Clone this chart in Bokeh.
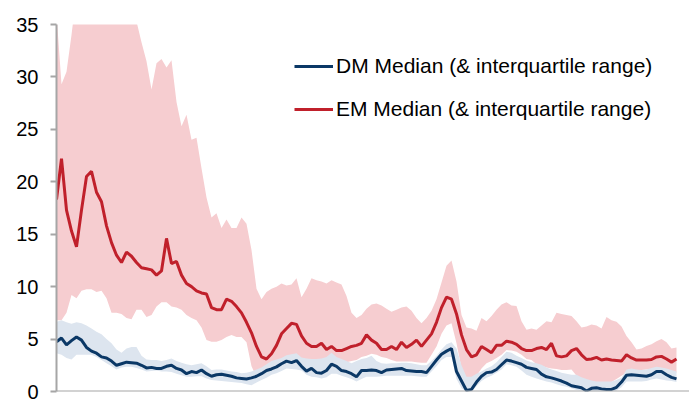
from bokeh.plotting import figure
from bokeh.models import Range1d, FixedTicker, Span, Legend, LegendItem
from bokeh.embed import file_html
from bokeh.resources import INLINE

# month index
months = list(range(125))
yticks = [0, 5, 10, 15, 20, 25, 30, 35]

em_med = [18.3, 22.2, 17.3, 15.3, 13.8, 17.3, 20.5, 21.0, 19.0, 18.1,
          15.8, 14.2, 13.0, 12.3, 13.3, 12.9, 12.3, 11.8, 11.7, 11.6,
          11.1, 11.5, 14.6, 12.2, 12.4, 11.1, 10.3, 10.0, 9.6, 9.4,
          9.3, 8.0, 7.8, 7.8, 8.8, 8.6, 8.1, 7.5, 6.6, 5.6,
          4.3, 3.3, 3.1, 3.6, 4.4, 5.5, 6.0, 6.5, 6.4, 5.3,
          4.6, 4.3, 4.3, 4.6, 4.0, 4.3, 3.9, 3.9, 4.1, 4.3,
          4.4, 4.6, 5.4, 4.9, 4.6, 4.0, 4.0, 4.3, 4.0, 4.7,
          4.2, 4.5, 4.9, 4.3, 4.9, 5.5, 6.6, 8.0, 9.0, 8.8,
          7.4, 5.4, 4.0, 3.3, 3.5, 4.3, 4.0, 3.7, 4.4, 4.4,
          4.8, 4.7, 4.5, 4.1, 3.9, 3.9, 4.1, 4.2, 4.0, 4.6,
          3.4, 3.3, 3.4, 3.9, 4.1, 3.5, 3.05, 3.1, 3.25, 3.0,
          3.1, 3.0, 2.95, 2.9, 3.5, 3.2, 3.0, 3.0, 3.0, 3.05,
          3.3, 3.35, 3.1, 2.8, 3.1]

em_hi = [36.0, 29.3, 30.5, 34.0, 38.0, 39.0, 40.0, 41.0, 40.0, 39.0,
         40.0, 42.0, 41.0, 40.0, 39.0, 37.0, 35.3, 33.3, 31.5, 28.8,
         31.3, 31.7, 30.9, 31.6, 27.6, 25.3, 26.4, 24.0, 24.2, 21.3,
         18.5, 16.6, 17.0, 15.6, 16.4, 15.6, 15.6, 16.6, 16.0, 13.5,
         9.8, 8.8, 9.5, 9.8, 10.0, 10.3, 10.1, 10.2, 10.8, 9.0,
         9.8, 10.8, 10.6, 10.5, 10.3, 10.6, 10.4, 10.2, 9.1, 7.5,
         7.0, 7.3, 7.9, 8.3, 8.4, 8.2, 7.9, 7.6, 7.8, 8.0,
         8.1, 7.7, 7.0, 6.5, 7.0, 7.7, 8.8, 10.4, 12.0, 12.5,
         10.5, 7.3, 6.1, 6.0, 5.8, 7.0, 6.7, 7.2, 7.8, 8.3,
         8.5, 8.2, 8.15, 6.7, 5.9, 6.0, 5.9, 6.3, 6.7, 6.6,
         7.5, 7.4, 7.3, 7.2, 6.7, 6.1, 6.2, 6.4, 6.3, 6.0,
         7.1, 6.8, 6.65, 6.2, 5.3, 4.7, 4.0, 4.1, 4.35, 4.5,
         4.8, 5.0, 4.7, 4.1, 4.2]

em_lo = [6.8, 6.8, 7.5, 9.2, 8.9, 9.6, 9.75, 9.75, 9.5, 9.6,
         8.9, 7.5, 7.5, 7.4, 7.0, 6.9, 7.8, 7.8, 7.1, 7.3,
         8.1, 8.5, 8.5, 8.1, 8.0, 7.8, 7.3, 7.0, 6.8, 6.1,
         4.9, 4.75, 4.75, 4.9, 5.2, 5.4, 5.2, 5.2, 4.7, 2.4,
         1.4, 1.5, 2.0, 2.5, 2.8, 3.0, 3.3, 3.4, 3.5, 3.1,
         3.0, 2.9, 2.9, 3.0, 3.1, 3.4, 2.8, 2.9, 2.8, 2.9,
         3.0, 3.3, 3.4, 3.6, 3.5, 3.3, 3.2, 3.0, 2.85, 2.85,
         2.85, 2.85, 2.8, 2.75, 2.75, 3.5, 4.3, 5.5, 6.3, 6.5,
         4.6, 2.2, 1.1, 1.2, 1.5, 2.2, 2.7, 2.9, 3.2, 3.5,
         3.95, 3.9, 3.8, 3.5, 3.1, 3.0, 2.6, 2.45, 2.3, 2.2,
         2.15, 2.05, 2.05, 2.1, 1.5, 1.0, 0.8, 0.7, 0.6, 0.7,
         0.8, 0.9, 1.2, 1.5, 1.8, 2.0, 2.05, 2.05, 2.1, 2.15,
         2.2, 2.15, 2.05, 1.9, 1.8]

dm_med = [4.75, 5.1, 4.45, 4.85, 5.2, 4.9, 4.2, 3.85, 3.65, 3.3,
          3.2, 2.9, 2.5, 2.65, 2.8, 2.75, 2.7, 2.5, 2.25, 2.3,
          2.2, 2.2, 2.4, 2.5, 2.2, 2.05, 1.7, 1.9, 1.8, 2.05,
          1.7, 1.45, 1.6, 1.65, 1.55, 1.45, 1.3, 1.25, 1.2, 1.3,
          1.45, 1.7, 2.0, 2.15, 2.35, 2.65, 2.9, 2.75, 2.95, 2.4,
          1.95, 2.2, 1.8, 1.75, 2.0, 2.6, 2.4, 2.0, 1.9, 1.7,
          1.4, 2.0, 2.0, 2.05, 2.0, 1.8, 2.05, 2.1, 2.15, 2.2,
          2.0, 1.95, 1.9, 1.9, 1.8, 2.4, 3.0, 3.55, 3.85, 4.1,
          1.9, 1.0, 0.1, 0.2, 0.9, 1.45, 1.8, 1.85, 2.1, 2.55,
          3.0, 2.9, 2.75, 2.6, 2.3, 2.2, 2.1, 1.65, 1.4, 1.3,
          1.15, 1.0, 0.8, 0.55, 0.45, 0.35, 0.05, 0.3, 0.35, 0.25,
          0.2, 0.2, 0.4, 0.9, 1.55, 1.6, 1.55, 1.5, 1.45, 1.6,
          1.9, 1.9, 1.6, 1.35, 1.2]

dm_hi = [6.65, 6.8, 6.6, 6.45, 6.6, 6.5, 6.3, 6.0, 5.7, 5.45,
         5.0, 4.6, 4.0, 3.7, 4.1, 4.25, 4.25, 3.4, 3.05, 3.0,
         3.0, 2.9, 3.0, 3.15, 2.9, 2.75, 2.6, 2.5, 2.6, 2.7,
         2.4, 2.05, 2.1, 2.1, 2.0, 1.9, 1.85, 1.75, 1.8, 1.9,
         2.1, 2.3, 2.6, 2.9, 3.05, 3.2, 3.45, 3.55, 3.65, 3.25,
         3.15, 3.1, 3.1, 3.15, 3.3, 3.7, 3.3, 3.1, 2.9, 2.7,
         2.9, 3.1, 3.2, 3.4, 2.9, 2.7, 2.65, 2.7, 2.7, 2.75,
         2.75, 2.7, 2.6, 2.5, 2.5, 2.9, 3.4, 4.0, 4.5, 4.7,
         4.1, 2.5, 1.4, 1.4, 1.7, 1.9, 2.2, 2.4, 2.8, 3.3,
         3.8, 3.7, 3.4, 3.2, 2.95, 2.8, 2.7, 2.55, 2.3, 2.1,
         1.95, 1.8, 1.7, 1.6, 1.6, 1.35, 1.2, 1.05, 0.95, 0.95,
         0.95, 0.95, 1.1, 1.3, 2.1, 2.2, 2.1, 2.05, 2.1, 2.25,
         2.35, 2.3, 2.2, 2.05, 1.9]

dm_lo = [3.65, 3.5, 3.2, 3.05, 3.5, 3.5, 3.5, 3.5, 3.3, 3.0,
         2.7, 2.4, 2.1, 2.3, 2.35, 2.35, 2.25, 2.1, 1.9, 1.95,
         2.0, 1.9, 1.9, 1.85, 1.7, 1.55, 1.4, 1.4, 1.45, 1.45,
         1.25, 1.1, 1.05, 1.0, 0.95, 0.9, 0.85, 0.8, 0.7, 0.6,
         0.85, 1.1, 1.3, 1.6, 1.75, 1.95, 2.2, 2.15, 2.1, 2.0,
         1.6, 1.4, 1.35, 1.25, 1.35, 1.7, 1.7, 1.5, 1.35, 1.2,
         0.95, 1.2, 1.4, 1.4, 1.4, 1.45, 1.5, 1.5, 1.5, 1.5,
         1.5, 1.5, 1.45, 1.4, 1.4, 1.9, 2.4, 3.0, 3.3, 3.3,
         1.2, 0.3, 0.0, 0.0, 0.5, 1.0, 1.3, 1.5, 1.8, 2.1,
         2.6, 2.5, 2.35, 2.0, 1.6, 1.4, 1.25, 1.1, 0.95, 0.85,
         0.7, 0.55, 0.45, 0.3, 0.15, 0.1, 0.0, 0.0, 0.0, 0.0,
         0.0, 0.0, 0.1, 0.4, 0.95, 0.95, 0.95, 0.95, 1.0, 1.15,
         1.25, 1.15, 1.05, 1.0, 0.9]

labels = ["DM Median (& interquartile range)", "EM Median (& interquartile range)"]

FONT = "Liberation Sans"
RED = "#c0202b"
NAVY = "#0b3866"
PINK = "#f6cdd0"
LBLUE = "#dde5ef"
AXIS = "#a6a6a6"

p = figure(width=689, height=400, output_backend="svg", toolbar_location=None,
           x_range=Range1d(0, 126.6), y_range=Range1d(0, 35),
           min_border_left=56, min_border_top=24, min_border_right=0, min_border_bottom=9)
p.outline_line_color = None
p.grid.visible = False
p.xaxis.visible = False
p.background_fill_color = "white"

ya = p.yaxis[0]
ya.ticker = FixedTicker(ticks=yticks)
ya.axis_line_color = AXIS
ya.axis_line_width = 2
ya.major_tick_line_color = AXIS
ya.major_tick_line_width = 2
ya.major_tick_out = 6
ya.major_tick_in = 0
ya.minor_tick_line_color = None
ya.major_label_text_font = FONT
ya.major_label_text_font_size = "20px"
ya.major_label_text_color = "#000000"
ya.major_label_standoff = 12

p.varea(x=months, y1=em_lo, y2=em_hi, fill_color=PINK)
p.varea(x=months, y1=dm_lo, y2=dm_hi, fill_color=LBLUE)
r_em = p.line(months, em_med, line_color=RED, line_width=3)
r_dm = p.line(months, dm_med, line_color=NAVY, line_width=3)

p.add_layout(Span(location=0, dimension="width", line_color=AXIS, line_width=2))

legend = Legend(items=[LegendItem(label=labels[0], renderers=[r_dm]),
                       LegendItem(label=labels[1], renderers=[r_em])],
                location=(238, 270), border_line_color=None, background_fill_alpha=0,
                padding=0, margin=0, spacing=19, glyph_width=39, glyph_height=20,
                label_standoff=3, label_text_font=FONT, label_text_font_size="21px",
                label_text_color="#000000")
p.add_layout(legend)

open("out.html", "w").write(file_html(p, INLINE))
